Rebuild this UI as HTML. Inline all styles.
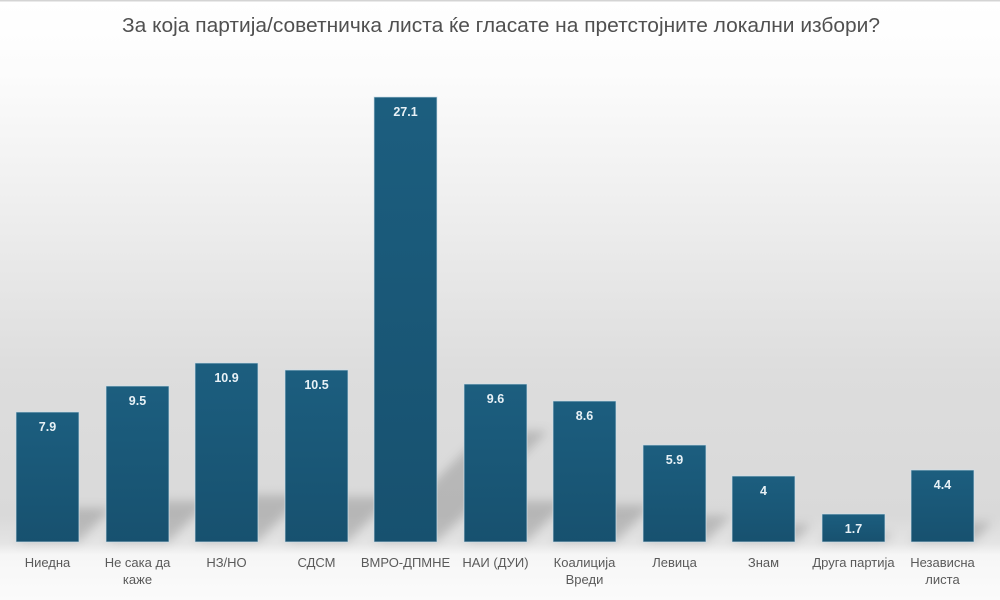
<!DOCTYPE html>
<html><head><meta charset="utf-8"><style>
html,body{margin:0;padding:0;width:1000px;height:600px;overflow:hidden;background:#fff}
svg{display:block}
</style></head><body>
<svg width="1000" height="600" viewBox="0 0 1000 600" xmlns="http://www.w3.org/2000/svg">
<defs>
<linearGradient id="bg" x1="0" y1="0" x2="0" y2="1">
<stop offset="0" stop-color="#ffffff"/>
<stop offset="0.12" stop-color="#fcfcfc"/>
<stop offset="0.35" stop-color="#eeeeee"/>
<stop offset="0.62" stop-color="#dddddd"/>
<stop offset="0.86" stop-color="#d9d9d9"/>
<stop offset="0.905" stop-color="#e4e4e4"/>
<stop offset="0.925" stop-color="#f6f6f6"/>
<stop offset="1" stop-color="#fbfbfb"/>
</linearGradient>
<linearGradient id="bar" x1="0" y1="0" x2="0" y2="1">
<stop offset="0" stop-color="#1c5e7f"/>
<stop offset="1" stop-color="#17516f"/>
</linearGradient>
<filter id="blur" x="-50%" y="-50%" width="200%" height="200%"><feGaussianBlur stdDeviation="5"/></filter>
</defs>
<rect x="0" y="0" width="1000" height="600" fill="url(#bg)"/>
<rect x="0" y="0" width="1000" height="1.5" fill="#d4d4d4"/>
<text x="501" y="32" text-anchor="middle" font-family="Liberation Sans, sans-serif" font-size="20" fill="#505050" textLength="758" lengthAdjust="spacingAndGlyphs">За која партија/советничка листа ќе гласате на претстојните локални избори?</text>

<g filter="url(#blur)" fill="#000" fill-opacity="0.16">
<polygon points="16,542 79,542 111,508 48,508"/>
<polygon points="106,542 169,542 208,501 145,501"/>
<polygon points="195,542 258,542 303,495 240,495"/>
<polygon points="285,542 348,542 391,497 328,497"/>
<polygon points="374,542 437,542 548,431 485,431"/>
<polygon points="464,542 527,542 566,501 503,501"/>
<polygon points="553,542 616,542 651,505 588,505"/>
<polygon points="643,542 706,542 730,516 667,516"/>
<polygon points="732,542 795,542 811,524 748,524"/>
<polygon points="822,542 885,542 892,533 829,533"/>
<polygon points="911,542 974,542 992,522 929,522"/>
</g>

<g fill="url(#bar)" stroke="#cfe0ea" stroke-width="1" stroke-opacity="0.7">
<rect x="16" y="412" width="63" height="130"/>
<rect x="106" y="386" width="63" height="156"/>
<rect x="195" y="363" width="63" height="179"/>
<rect x="285" y="370" width="63" height="172"/>
<rect x="374" y="97" width="63" height="445"/>
<rect x="464" y="384" width="63" height="158"/>
<rect x="553" y="401" width="63" height="141"/>
<rect x="643" y="445" width="63" height="97"/>
<rect x="732" y="476" width="63" height="66"/>
<rect x="822" y="514" width="63" height="28"/>
<rect x="911" y="470" width="63" height="72"/>
</g>

<g font-family="Liberation Sans, sans-serif" font-size="12.5" font-weight="bold" fill="#e8f1f6" text-anchor="middle">
<text x="47.5" y="431">7.9</text>
<text x="137.5" y="405">9.5</text>
<text x="226.5" y="382">10.9</text>
<text x="316.5" y="389">10.5</text>
<text x="405.5" y="116">27.1</text>
<text x="495.5" y="403">9.6</text>
<text x="584.5" y="420">8.6</text>
<text x="674.5" y="464">5.9</text>
<text x="763.5" y="495">4</text>
<text x="853.5" y="533">1.7</text>
<text x="942.5" y="489">4.4</text>
</g>

<g font-family="Liberation Sans, sans-serif" font-size="13" fill="#5a5a5a" text-anchor="middle">
<text x="47.5" y="567">Ниедна</text>
<text x="137.5" y="567">Не сака да</text>
<text x="137.5" y="584">каже</text>
<text x="226.5" y="567">НЗ/НО</text>
<text x="316.5" y="567">СДСМ</text>
<text x="405.5" y="567">ВМРО-ДПМНЕ</text>
<text x="495.5" y="567">НАИ (ДУИ)</text>
<text x="584.5" y="567">Коалиција</text>
<text x="584.5" y="584">Вреди</text>
<text x="674.5" y="567">Левица</text>
<text x="763.5" y="567">Знам</text>
<text x="853.5" y="567">Друга партија</text>
<text x="942.5" y="567">Независна</text>
<text x="942.5" y="584">листа</text>
</g>
</svg>
</body></html>
